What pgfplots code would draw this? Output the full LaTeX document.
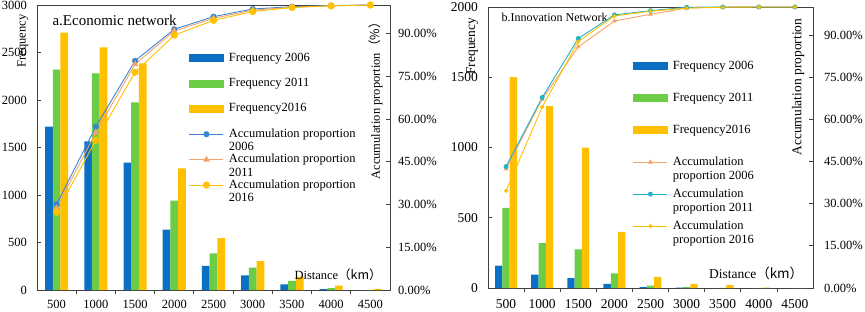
\documentclass[border=0pt]{standalone}
\usepackage{fontspec}
\setmainfont{Liberation Serif}
\newfontfamily\cjk{Noto Sans CJK SC}
\usepackage{pgfplots}
\usepackage{pgfplotstable}
\pgfplotsset{compat=1.18}

\definecolor{c06}{HTML}{0A70C4}
\definecolor{c11}{HTML}{6ACD45}
\definecolor{c16}{HTML}{FFC000}
\definecolor{lblue}{HTML}{3A86D4}
\definecolor{lorange}{HTML}{F4A46A}
\definecolor{lteal}{HTML}{20B2C8}
\definecolor{axgray}{HTML}{404040}

\newcommand\fa{\fontsize{12.5bp}{13.5bp}\selectfont}
\newcommand\fb{\fontsize{13.5bp}{14bp}\selectfont}

\pgfplotstableread{
x f06 f11 f16 a06 a11 a16
0 1720 2320 2710 30.1 28.7 27.3
1 1565 2280 2555 57.3 55.3 52.5
2 1340 1975 2385 80.4 79.2 76.4
3 635 940 1280 91.5 90.9 89.4
4 255 385 545 95.9 95.3 94.6
5 155 235 305 98.6 98.2 97.7
6 60 95 140 99.4 99.2 99.1
7 10 20 45 99.8 99.7 99.7
8 0 0 8 100 100 100
}\econ

\pgfplotstableread{
x f06 f11 f16 a06 a11 a16
0 160 570 1500 42.4 43.2 34.6
1 95 320 1295 67.2 67.8 64.4
2 70 275 1000 85.8 88.8 87.7
3 30 105 400 95.0 97.2 96.8
4 7 17 80 97.4 98.7 98.5
5 2 7 30 99.6 99.9 99.6
6 0 1 20 100 100 99.9
7 0 0 2 100 100 100
8 0 0 0 100 100 100
}\innov

\pgfplotsset{
  base/.style={scale only axis, xmin=-0.5, xmax=8.5, ymin=0,
    axis line style={color=axgray, line width=0.8bp},
    tick style={color=axgray, line width=0.8bp},
    tick align=inside, major tick length=4bp, minor tick length=4bp,
    /pgf/number format/assume math mode=true,
    /pgf/number format/1000 sep={}},
  barleg/.style={legend image code/.code={\fill[#1] (0bp,-3.5bp) rectangle (34bp,3.5bp);}},
  lineleg/.style={legend image code/.code={\draw[##1] (0bp,0bp) -- (34bp,0bp); \draw[##1] plot coordinates {(17bp,0bp)};}},
}

\begin{document}
\begin{tikzpicture}[x=1bp,y=1bp]
\useasboundingbox (0,0) rectangle (865,311);

% ---------------- Left chart: bars ----------------
\begin{axis}[base, at={(37bp,21bp)}, anchor=south west, width=353bp, height=285bp,
  ymax=3000, ytick={0,500,...,3000}, ytick pos=left,
  xtick={0,...,8}, xticklabels={500,1000,1500,2000,2500,3000,3500,4000,4500},
  major x tick style={draw=none}, minor xtick={0.5,1.5,...,7.5}, xtick pos=left,
  tick label style={font=\fa},
  yticklabel style={anchor=east, inner sep=0pt, xshift=-10bp},
  xticklabel style={anchor=north, inner sep=0pt, yshift=-6bp},
  ybar=0pt, bar width=7.7bp,
  ylabel={Frequency}, ylabel style={at={(axis description cs:-0.04,0.874)}, anchor=center, font=\fa},
  xlabel={Distance\cjk{（}km\cjk{）}}, xlabel style={at={(axis description cs:0.853,0.053)}, anchor=center, font=\fa},
]
\addplot[fill=c06, draw=none] table[x=x,y=f06]{\econ};
\addplot[fill=c11, draw=none] table[x=x,y=f11]{\econ};
\addplot[fill=c16, draw=none] table[x=x,y=f16]{\econ};
\node[anchor=west, font=\fontsize{15bp}{16bp}\selectfont] at (axis description cs:0.034,0.947) {a.Economic network};
\end{axis}

% ---------------- Left chart: lines ----------------
\begin{axis}[base, at={(37bp,21bp)}, anchor=south west, width=353bp, height=285bp,
  ymax=100, axis x line=none, axis y line*=right, clip=false,
  ytick={0,15,...,90}, yticklabels={0.00\%,15.00\%,30.00\%,45.00\%,60.00\%,75.00\%,90.00\%},
  tick label style={font=\fa},
  yticklabel style={anchor=west, inner sep=0pt, xshift=8bp},
  ylabel={Accumulation proportion\cjk{（}\%\cjk{）}}, ylabel style={at={(axis description cs:0.960,0.674)}, anchor=center, font=\fa},
  legend style={at={(axis description cs:0.4306,0.835)}, anchor=north west, draw=none, fill=none,
    font=\fa, row sep=13.4bp, column sep=5bp, inner sep=0pt, outer sep=0pt,
    nodes={inner sep=0pt, text height=9bp, text depth=3bp}},
  legend cell align=left,
]
\addlegendimage{barleg=c06}
\addlegendentry{Frequency 2006}
\addlegendimage{barleg=c11}
\addlegendentry{Frequency 2011}
\addlegendimage{barleg=c16}
\addlegendentry{Frequency2016}
\addplot[lineleg, color=lblue, line width=0.9bp, mark=*, mark size=2.6bp, mark options={fill=lblue}] table[x=x,y=a06]{\econ};
\addlegendentry{\vtop{\hbox{Accumulation proportion}\hbox{2006}}}
\addplot[lineleg, color=lorange, line width=0.9bp, mark=triangle*, mark size=3bp, mark options={fill=lorange}] table[x=x,y=a11]{\econ};
\addlegendentry{\vtop{\hbox{Accumulation proportion}\hbox{2011}}}
\addplot[lineleg, color=c16, line width=0.9bp, mark=*, mark size=3.1bp, mark options={fill=c16}] table[x=x,y=a16]{\econ};
\addlegendentry{\vtop{\hbox{Accumulation proportion}\hbox{2016}}}
\end{axis}

% ---------------- Right chart: bars ----------------
\begin{axis}[base, at={(488bp,23bp)}, anchor=south west, width=325bp, height=281bp,
  ymax=2000, ytick={0,500,...,2000}, ytick pos=left,
  xtick={0,...,8}, xticklabels={500,1000,1500,2000,2500,3000,3500,4000,4500},
  major x tick style={draw=none}, minor xtick={0.5,1.5,...,7.5}, xtick pos=left,
  tick label style={font=\fb},
  yticklabel style={anchor=east, inner sep=0pt, xshift=-10bp},
  xticklabel style={anchor=north, inner sep=0pt, yshift=-7bp},
  ybar=0pt, bar width=7.3bp,
  ylabel={Frequency}, ylabel style={at={(axis description cs:-0.049,0.861)}, anchor=center, font=\fb},
  xlabel={Distance\cjk{（}km\cjk{）}}, xlabel style={at={(axis description cs:0.825,0.053)}, anchor=center, font=\fb},
]
\addplot[fill=c06, draw=none] table[x=x,y=f06]{\innov};
\addplot[fill=c11, draw=none] table[x=x,y=f11]{\innov};
\addplot[fill=c16, draw=none] table[x=x,y=f16]{\innov};
\node[anchor=west, font=\fontsize{12bp}{13bp}\selectfont] at (axis description cs:0.031,0.964) {b.Innovation Network};
\end{axis}

% ---------------- Right chart: lines ----------------
\begin{axis}[base, at={(488bp,23bp)}, anchor=south west, width=325bp, height=281bp,
  ymax=100, axis x line=none, axis y line*=right, clip=false,
  ytick={0,15,...,90}, yticklabels={0.00\%,15.00\%,30.00\%,45.00\%,60.00\%,75.00\%,90.00\%},
  tick label style={font=\fa},
  yticklabel style={anchor=west, inner sep=0pt, xshift=11bp},
  ylabel={Accumulation proportion}, ylabel style={at={(axis description cs:0.954,0.715)}, anchor=center, font=\fb},
  legend style={at={(axis description cs:0.446,0.811)}, anchor=north west, draw=none, fill=none,
    font=\fa, row sep=20bp, column sep=5bp, inner sep=0pt, outer sep=0pt,
    nodes={inner sep=0pt, text height=9bp, text depth=3bp}},
  legend cell align=left,
]
\addlegendimage{barleg=c06}
\addlegendentry{Frequency 2006}
\addlegendimage{barleg=c11}
\addlegendentry{Frequency 2011}
\addlegendimage{barleg=c16}
\addlegendentry{Frequency2016}
\addplot[lineleg, color=lorange, line width=0.9bp, mark=triangle*, mark size=1.9bp, mark options={fill=lorange}] table[x=x,y=a06]{\innov};
\addlegendentry{\baselineskip=14bp\vtop{\hbox{Accumulation}\hbox{proportion 2006}}}
\addplot[lineleg, color=lteal, line width=0.9bp, mark=*, mark size=2bp, mark options={fill=lteal}] table[x=x,y=a11]{\innov};
\addlegendentry{\baselineskip=14bp\vtop{\hbox{Accumulation}\hbox{proportion 2011}}}
\addplot[lineleg, color=c16, line width=0.9bp, mark=*, mark size=1.6bp, mark options={fill=c16}] table[x=x,y=a16]{\innov};
\addlegendentry{\baselineskip=14bp\vtop{\hbox{Accumulation}\hbox{proportion 2016}}}
\end{axis}
\end{tikzpicture}
\end{document}
